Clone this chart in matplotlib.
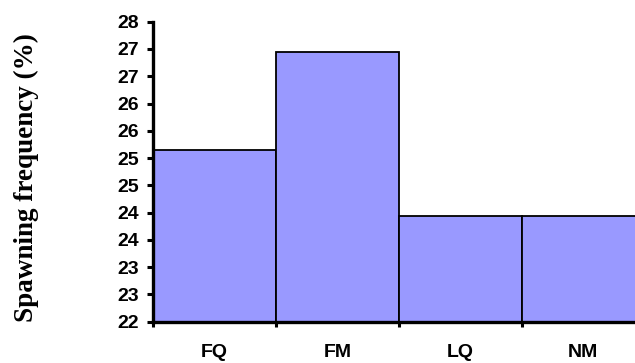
import numpy as np
import matplotlib
matplotlib.use("Agg")
from matplotlib import pyplot as plt
from matplotlib.ticker import FixedLocator, FixedFormatter, NullFormatter

# spawning frequency per group (%)
groups = ["FQ", "FM", "LQ", "NM"]
freq = [25.15, 26.95, 23.94, 23.94]

# y axis runs 22 .. 27.5 in steps of 0.5, labels shown rounded to whole numbers
y_ticks = [22, 22.5, 23, 23.5, 24, 24.5, 25, 25.5, 26, 26.5, 27, 27.5]
y_tick_labels = ["22", "23", "23", "24", "24", "25", "25", "26", "26", "27", "27", "28"]

fig = plt.figure(figsize=(6.35, 3.63), dpi=100)
W, H = 635, 363
# plot area runs a little past the right edge of the figure
ax = fig.add_axes([153.3 / W, 41.3 / H, 491.2 / W, 300.0 / H])

x = np.arange(len(groups)) + 0.5
ax.bar(x, freq, width=1.0, color="#9999ff", edgecolor="black", linewidth=1.3, zorder=2)

ax.set_xlim(0, len(groups))
ax.set_ylim(y_ticks[0], y_ticks[-1])

ax.yaxis.set_major_locator(FixedLocator(y_ticks))
ax.yaxis.set_major_formatter(FixedFormatter(y_tick_labels))

# group boundaries carry the tick marks, names sit in the middle
ax.xaxis.set_major_locator(FixedLocator(np.arange(len(groups) + 1)))
ax.xaxis.set_major_formatter(NullFormatter())
ax.xaxis.set_minor_locator(FixedLocator(x))
ax.xaxis.set_minor_formatter(FixedFormatter(groups))

for s in ["top", "right"]:
    ax.spines[s].set_visible(False)
for s in ["left", "bottom"]:
    ax.spines[s].set_linewidth(2.4)
    ax.spines[s].set_zorder(3)

ax.tick_params(axis="y", which="major", direction="out", length=4.5, width=2.2, pad=6,
               labelsize=14)
ax.tick_params(axis="x", which="major", direction="out", length=3.5, width=2.2)
ax.tick_params(axis="x", which="minor", length=0, pad=16, labelsize=14)

for lab in ax.get_yticklabels() + ax.get_xticklabels(minor=True):
    lab.set_fontfamily("Liberation Sans")
    lab.set_fontweight("bold")

fig.text(26 / W, 1 - 178 / H, "Spawning frequency (%)", rotation=90,
         ha="center", va="center", fontsize=19.5, fontweight="bold",
         family="Liberation Serif")

fig.savefig("out.png", dpi=100)
